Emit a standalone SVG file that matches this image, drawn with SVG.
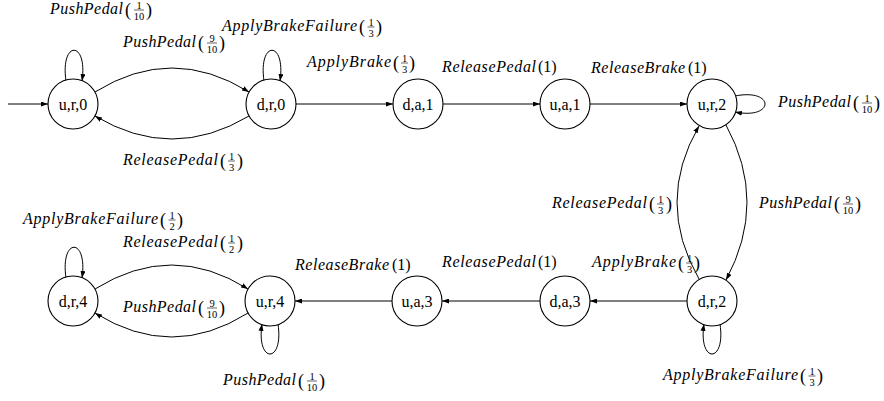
<svg xmlns="http://www.w3.org/2000/svg" width="884" height="401" viewBox="0 0 884 401" font-family="'Liberation Serif', 'DejaVu Serif', 'Times New Roman', serif">
<style>
.node circle{fill:#fff;stroke:#000;stroke-width:1.1}
.node text{font-size:16px;text-anchor:middle;fill:#000}
.edges path,.edges line{fill:none;stroke:#000;stroke-width:1}
.arr{marker-end:url(#ah)}
.lbl text{fill:#000}
.n{font-style:italic;font-size:16px}
.p{font-size:18px}
.q{font-size:16px}
.f{font-size:10.5px;text-anchor:middle}
.lbl line{stroke:#000;stroke-width:0.6}
</style>
<defs>
<marker id="ah" viewBox="0 0 7 5" refX="7" refY="2.5" markerWidth="7" markerHeight="5" orient="auto" markerUnits="userSpaceOnUse">
<path d="M0,0 L7,2.5 L0,5 z" fill="#000"/>
</marker>
</defs>
<rect width="884" height="401" fill="#fff"/>

<g class="edges">
<line class="arr" x1="8" y1="104" x2="48" y2="104"/>
<path class="arr" d="M95,92 Q172,44 249,92"/>
<path class="arr" d="M249,116 Q172,162 95,116"/>
<path class="arr" d="M66,81 C60,40 88,40 82,81"/>
<path class="arr" d="M264,81 C258,40 286,40 280,81"/>
<line class="arr" x1="296" y1="104" x2="393" y2="104"/>
<line class="arr" x1="443" y1="104" x2="540" y2="104"/>
<line class="arr" x1="590" y1="104" x2="687" y2="104"/>
<path class="arr" d="M735,96 C775,88 775,120 735,112"/>
<path class="arr" d="M726,125 Q768,202 726,280"/>
<path class="arr" d="M699,279 Q655,202 699,126"/>
<path class="arr" d="M720,324 C726,364 698,364 704,324"/>
<line class="arr" x1="687" y1="301" x2="590" y2="301"/>
<line class="arr" x1="540" y1="301" x2="442" y2="301"/>
<line class="arr" x1="392" y1="301" x2="295" y2="301"/>
<path class="arr" d="M95,289 Q172,241 248,289"/>
<path class="arr" d="M248,313 Q172,361 95,313"/>
<path class="arr" d="M66,278 C60,237 88,237 82,278"/>
<path class="arr" d="M278,324 C284,364 256,364 262,324"/>
</g>

<g id="n_ur0" class="node"><circle cx="73" cy="104" r="25"/><text x="73" y="109.5">u,r,0</text></g>
<g id="n_dr0" class="node"><circle cx="271" cy="104" r="25"/><text x="271" y="109.5">d,r,0</text></g>
<g id="n_da1" class="node"><circle cx="418" cy="104" r="25"/><text x="418" y="109.5">d,a,1</text></g>
<g id="n_ua1" class="node"><circle cx="565" cy="104" r="25"/><text x="565" y="109.5">u,a,1</text></g>
<g id="n_ur2" class="node"><circle cx="712" cy="104" r="25"/><text x="712" y="109.5">u,r,2</text></g>
<g id="n_dr2" class="node"><circle cx="712" cy="301" r="25"/><text x="712" y="306.5">d,r,2</text></g>
<g id="n_da3" class="node"><circle cx="565" cy="301" r="25"/><text x="565" y="306.5">d,a,3</text></g>
<g id="n_ua3" class="node"><circle cx="417" cy="301" r="25"/><text x="417" y="306.5">u,a,3</text></g>
<g id="n_ur4" class="node"><circle cx="270" cy="301" r="25"/><text x="270" y="306.5">u,r,4</text></g>
<g id="n_dr4" class="node"><circle cx="73" cy="301" r="25"/><text x="73" y="306.5">d,r,4</text></g>

<g class="lbl">
<!-- L1 -->
<text class="n" x="50" y="14" textLength="73" lengthAdjust="spacing">PushPedal</text>
<text class="p" x="125" y="16">(</text><text class="f" x="139" y="8.5">1</text><line x1="134" y1="10" x2="144" y2="10"/><text class="f" x="139" y="20">10</text><text class="p" x="146" y="16">)</text>
<!-- L2 -->
<text class="n" x="123" y="47" textLength="73" lengthAdjust="spacing">PushPedal</text>
<text class="p" x="198" y="49">(</text><text class="f" x="212" y="41.5">9</text><line x1="207" y1="43" x2="217" y2="43"/><text class="f" x="212" y="53">10</text><text class="p" x="219" y="49">)</text>
<!-- L3 -->
<text class="n" x="123" y="165" textLength="95" lengthAdjust="spacing">ReleasePedal</text>
<text class="p" x="220" y="167">(</text><text class="f" x="231.5" y="159.5">1</text><line x1="228" y1="161" x2="235" y2="161"/><text class="f" x="231.5" y="171">3</text><text class="p" x="237" y="167">)</text>
<!-- L4 -->
<text class="n" x="222" y="31" textLength="135" lengthAdjust="spacing">ApplyBrakeFailure</text>
<text class="p" x="359" y="33">(</text><text class="f" x="371" y="25.5">1</text><line x1="367.5" y1="27" x2="374.5" y2="27"/><text class="f" x="371" y="37">3</text><text class="p" x="376" y="33">)</text>
<!-- L5 -->
<text class="n" x="307" y="67" textLength="84" lengthAdjust="spacing">ApplyBrake</text>
<text class="p" x="393" y="69">(</text><text class="f" x="404.5" y="61.5">1</text><line x1="401" y1="63" x2="408" y2="63"/><text class="f" x="404.5" y="73">3</text><text class="p" x="409" y="69">)</text>
<!-- L6 -->
<text class="n" x="442" y="72" textLength="94" lengthAdjust="spacing">ReleasePedal</text><text class="q" x="538" y="72">(1)</text>
<!-- L7 -->
<text class="n" x="591" y="73" textLength="94" lengthAdjust="spacing">ReleaseBrake</text><text class="q" x="688" y="73">(1)</text>
<!-- L8 -->
<text class="n" x="778" y="107" textLength="73" lengthAdjust="spacing">PushPedal</text>
<text class="p" x="853" y="109">(</text><text class="f" x="867" y="101.5">1</text><line x1="862" y1="103" x2="872" y2="103"/><text class="f" x="867" y="113">10</text><text class="p" x="874" y="109">)</text>
<!-- L9 -->
<text class="n" x="552" y="208" textLength="95" lengthAdjust="spacing">ReleasePedal</text>
<text class="p" x="649" y="210">(</text><text class="f" x="660.5" y="202.5">1</text><line x1="657" y1="204" x2="664" y2="204"/><text class="f" x="660.5" y="214">3</text><text class="p" x="666" y="210">)</text>
<!-- L10 -->
<text class="n" x="759" y="208" textLength="73" lengthAdjust="spacing">PushPedal</text>
<text class="p" x="834" y="210">(</text><text class="f" x="848" y="202.5">9</text><line x1="843" y1="204" x2="853" y2="204"/><text class="f" x="848" y="214">10</text><text class="p" x="855" y="210">)</text>
<!-- L11 -->
<text class="n" x="592" y="267" textLength="84" lengthAdjust="spacing">ApplyBrake</text>
<text class="p" x="678" y="269">(</text><text class="f" x="689.5" y="261.5">1</text><line x1="686" y1="263" x2="693" y2="263"/><text class="f" x="689.5" y="273">3</text><text class="p" x="694" y="269">)</text>
<!-- L12 -->
<text class="n" x="663" y="380" textLength="135" lengthAdjust="spacing">ApplyBrakeFailure</text>
<text class="p" x="800" y="382">(</text><text class="f" x="812" y="374.5">1</text><line x1="808.5" y1="376" x2="815.5" y2="376"/><text class="f" x="812" y="386">3</text><text class="p" x="817" y="382">)</text>
<!-- L13 -->
<text class="n" x="442" y="267" textLength="94" lengthAdjust="spacing">ReleasePedal</text><text class="q" x="538" y="267">(1)</text>
<!-- L14 -->
<text class="n" x="295" y="270" textLength="94" lengthAdjust="spacing">ReleaseBrake</text><text class="q" x="392" y="270">(1)</text>
<!-- L15 -->
<text class="n" x="23" y="224" textLength="135" lengthAdjust="spacing">ApplyBrakeFailure</text>
<text class="p" x="160" y="226">(</text><text class="f" x="172" y="218.5">1</text><line x1="168.5" y1="220" x2="175.5" y2="220"/><text class="f" x="172" y="230">2</text><text class="p" x="177" y="226">)</text>
<!-- L16 -->
<text class="n" x="123" y="247" textLength="95" lengthAdjust="spacing">ReleasePedal</text>
<text class="p" x="220" y="249">(</text><text class="f" x="231.5" y="241.5">1</text><line x1="228" y1="243" x2="235" y2="243"/><text class="f" x="231.5" y="253">2</text><text class="p" x="237" y="249">)</text>
<!-- L17 -->
<text class="n" x="123" y="312" textLength="73" lengthAdjust="spacing">PushPedal</text>
<text class="p" x="198" y="314">(</text><text class="f" x="212" y="306.5">9</text><line x1="207" y1="308" x2="217" y2="308"/><text class="f" x="212" y="318">10</text><text class="p" x="219" y="314">)</text>
<!-- L18 -->
<text class="n" x="223" y="385" textLength="73" lengthAdjust="spacing">PushPedal</text>
<text class="p" x="298" y="387">(</text><text class="f" x="312" y="379.5">1</text><line x1="307" y1="381" x2="317" y2="381"/><text class="f" x="312" y="391">10</text><text class="p" x="319" y="387">)</text>
</g>
</svg>
